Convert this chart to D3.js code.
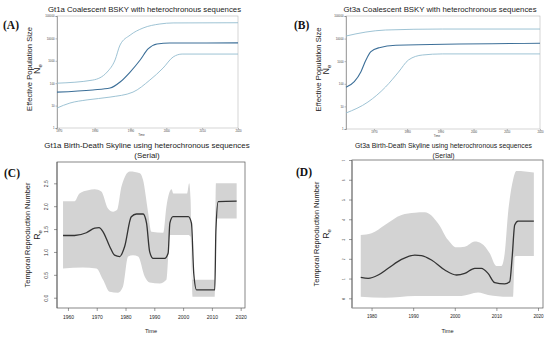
<!DOCTYPE html>
<html>
<head>
<meta charset="utf-8">
<script src="https://cdn.jsdelivr.net/npm/d3@7"></script>
<style>
body { margin: 0; background: #fff; }
svg { display: block; font-family: "Liberation Sans", Arial, sans-serif; }
</style>
</head>
<body>
<div id="chart"></div>
<script>
// ---------- data ----------
// (A) Gt1a coalescent Bayesian skyline: [year, Ne]
var gt1aUpper = [[1969.5, 100], [1979.5, 138], [1983.5, 316], [1985.7, 1090], [1987.1, 5100], [1989.9, 14000], [1993.5, 29000], [1998.2, 44000], [2001.9, 49000], [2020, 50000]];
var gt1aMedian = [[1969.5, 40], [1979.5, 50], [1984.3, 61], [1987.1, 113], [1989.9, 316], [1992.7, 1090], [1994.9, 3380], [1997.4, 5640], [2001, 6200], [2020, 6300]];
var gt1aLower = [[1969.5, 7.8], [1973.1, 13], [1977.9, 18], [1984.3, 24], [1990.7, 40], [1995.4, 138], [1999.1, 475], [2001.9, 1480], [2004.4, 2000], [2020, 2000]];

// (B) Gt3a coalescent Bayesian skyline
var gt3aUpper = [[1961.6, 13000], [1967.6, 19500], [1973.5, 24000], [1990.6, 26500], [2020, 26500]];
var gt3aMedian = [[1961.6, 70], [1964.1, 124], [1966.1, 345], [1967.6, 1125], [1969.1, 2630], [1971.6, 3970], [1976.6, 5040], [2020, 6200]];
var gt3aLower = [[1961.6, 5.1], [1968.2, 15.6], [1973.5, 72], [1977.4, 330], [1980.4, 1130], [1984.6, 1880], [1990.6, 2100], [2020, 2100]];

var coalYTicks = [1, 10, 100, 1000, 10000, 100000];
var gt1aXTicks = [1970, 1980, 1990, 2000, 2010, 2020];
var gt3aXTicks = [1970, 1980, 1990, 2000, 2010, 2020];

// (C) Gt1a birth-death skyline: [year, Re]
var bdC_median = [[1958.3, 1.36], [1962.3, 1.36], [1966.4, 1.42], [1969.3, 1.52], [1970.8, 1.53], [1972.2, 1.44], [1974.5, 1.12], [1976.2, 0.93], [1978, 0.9], [1979.7, 1.12], [1982, 1.77], [1983.8, 1.83], [1986.1, 1.83], [1987.3, 1.63], [1988.4, 1.0], [1989.6, 0.86], [1993.6, 0.86], [1994.8, 0.97], [1995.4, 1.63], [1996.5, 1.77], [2001.8, 1.77], [2002.9, 1.63], [2003.7, 0.53], [2004.7, 0.17], [2011, 0.17], [2011.4, 1.48], [2012.2, 2.1], [2018.6, 2.11]];
var bdC_upper = [[1958.3, 2.11], [1962.3, 2.11], [1964, 2.28], [1967, 2.35], [1969.3, 2.37], [1971.6, 2.32], [1973.9, 1.95], [1975.7, 1.88], [1977.1, 1.92], [1978.6, 2.43], [1981.5, 2.76], [1985, 2.72], [1986.1, 2.57], [1987.8, 1.88], [1989, 1.44], [1993.1, 1.42], [1994.2, 1.99], [1996, 2.37], [1996.6, 2.28], [2001.4, 2.28], [2002.1, 2.5], [2002.6, 2.14], [2003.3, 0.39], [2011, 0.39], [2011.4, 2.5], [2018.6, 2.5]];
var bdC_lower = [[1958.3, 0.64], [1965.2, 0.66], [1969.9, 0.64], [1972.2, 0.39], [1974.5, 0.13], [1977.4, 0.11], [1979.1, 0.24], [1980.9, 0.9], [1982.6, 0.93], [1984.4, 0.9], [1986.7, 0.46], [1988.4, 0.33], [1991.9, 0.31], [1994.2, 0.39], [1995.4, 1.37], [2001.8, 1.37], [2002.6, 1.33], [2003.3, 0.02], [2011, 0.02], [2011.4, 1.73], [2018.6, 1.73]];
var bdC_xTicks = [1960, 1970, 1980, 1990, 2000, 2010, 2020];
var bdC_yTicks = [0, 0.5, 1, 1.5, 2, 2.5];

// (D) Gt3a birth-death skyline
var bdD_median = [[1977.4, 1.06], [1979.2, 1.01], [1981.6, 1.18], [1984, 1.52], [1987.2, 1.97], [1990.4, 2.19], [1992, 2.16], [1994.4, 1.94], [1997.6, 1.43], [2000.4, 1.18], [2002.4, 1.26], [2004.8, 1.52], [2006.4, 1.52], [2008, 1.26], [2009.6, 0.79], [2012, 0.73], [2013.2, 0.84], [2013.8, 2.11], [2014.4, 3.71], [2015.2, 3.91], [2019, 3.91]];
var bdD_upper = [[1977.4, 3.2], [1980, 3.29], [1983.2, 3.71], [1987.2, 4.22], [1990.4, 4.33], [1992.8, 4.35], [1996, 3.79], [1998.4, 2.95], [2000.4, 2.58], [2002.4, 2.61], [2004.8, 2.87], [2006.4, 2.78], [2008.4, 2.28], [2010, 1.64], [2011.2, 1.64], [2012, 2.28], [2012.8, 4.3], [2014, 5.99], [2014.8, 6.44], [2019, 6.37]];
var bdD_lower = [[1977.4, 0.08], [1983.2, 0.03], [1990.4, 0.12], [2001.6, 0.12], [2005.6, 0.29], [2008, 0.17], [2012.8, 0.08], [2014, 0.08], [2014.4, 2.11], [2014.8, 2.14], [2019, 2.14]];
var bdD_xTicks = [1980, 1990, 2000, 2010, 2020];
var bdD_yTicks = [0, 1, 2, 3, 4, 5, 6, 7];

// ---------- drawing ----------
var svg = d3.select("#chart").append("svg")
    .attr("width", 550)
    .attr("height", 339);

svg.append("rect").attr("width", 550).attr("height", 339).attr("fill", "#fff");

function panelLabel(txt, x, y) {
    svg.append("text")
        .attr("x", x).attr("y", y)
        .attr("font-family", "'Liberation Serif', 'Times New Roman', serif")
        .attr("font-weight", "bold")
        .attr("font-size", "11.5px")
        .attr("fill", "#111")
        .text(txt);
}

function yLabel(txt, sub, x, yc, size, gap) {
    svg.append("text")
        .attr("transform", "translate(" + x + "," + yc + ") rotate(-90)")
        .attr("text-anchor", "middle")
        .attr("font-size", size + "px")
        .attr("fill", "#222")
        .text(txt);
    var t = svg.append("text")
        .attr("transform", "translate(" + (x + gap) + "," + yc + ") rotate(-90)")
        .attr("text-anchor", "middle")
        .attr("font-size", (size + 1.5) + "px")
        .attr("fill", "#222");
    t.append("tspan").text(sub[0]);
    t.append("tspan").attr("font-size", (size - 1.5) + "px").attr("dy", 2).text(sub[1]);
}

// coalescent skyline panels (A, B)
function coalescent(c) {
    var x = d3.scaleLinear().domain(c.xDomain).range([c.left, c.right]);
    var y = d3.scaleLog().domain([1, 100000]).range([c.bottom, c.top]);

    svg.append("text")
        .attr("x", (c.left + c.right) / 2 - 3).attr("y", 12)
        .attr("text-anchor", "middle")
        .attr("font-size", "7.8px")
        .attr("fill", "#222")
        .text(c.title);

    svg.append("rect")
        .attr("x", c.left).attr("y", c.top)
        .attr("width", c.right - c.left).attr("height", c.bottom - c.top)
        .attr("fill", "none").attr("stroke", "#b8b8b8").attr("stroke-width", 0.6);

    var ya = svg.append("g")
        .attr("transform", "translate(" + c.left + ",0)")
        .call(d3.axisLeft(y).tickValues(coalYTicks).tickSize(1.5).tickPadding(1).tickFormat(d3.format("d")));
    var xa = svg.append("g")
        .attr("transform", "translate(0," + c.bottom + ")")
        .call(d3.axisBottom(x).tickValues(c.xTicks).tickSize(1.5).tickPadding(1).tickFormat(d3.format("d")));
    ya.select(".domain").attr("stroke", "#777").attr("stroke-width", 0.6);
    xa.select(".domain").remove();
    [ya, xa].forEach(function (g) {
        g.selectAll("line").attr("stroke", "#777").attr("stroke-width", 0.5);
        g.selectAll("text").attr("font-size", "2.8px").attr("fill", "#444");
    });

    svg.append("text")
        .attr("x", (c.left + c.right) / 2 - 6).attr("y", c.bottom + 8)
        .attr("text-anchor", "middle")
        .attr("font-size", "3px").attr("fill", "#444")
        .text("Time");

    var line = d3.line()
        .x(function (d) { return x(d[0]); })
        .y(function (d) { return y(d[1]); })
        .curve(d3.curveMonotoneX);

    [[c.upper, "#93bccf", 0.9], [c.lower, "#93bccf", 0.9], [c.median, "#3c6f98", 1.1]].forEach(function (s) {
        svg.append("path")
            .datum(s[0])
            .attr("d", line)
            .attr("fill", "none")
            .attr("stroke", s[1])
            .attr("stroke-width", s[2]);
    });

    yLabel("Effective Population Size", ["N", "e"], c.left - 25, (c.top + c.bottom) / 2 - 3, 7.6, 8);
}

// birth-death skyline panels (C, D)
function birthDeath(c) {
    var x = d3.scaleLinear().domain(c.xDomain).range([c.left, c.right]);
    var y = d3.scaleLinear().domain(c.yDomain).range([c.bottom, c.top]);

    svg.append("text")
        .attr("x", (c.left + c.right) / 2 - 4).attr("y", 148)
        .attr("text-anchor", "middle")
        .attr("font-size", c.titleSize + "px")
        .attr("fill", "#222")
        .text(c.title);
    svg.append("text")
        .attr("x", (c.left + c.right) / 2 - 4).attr("y", 158)
        .attr("text-anchor", "middle")
        .attr("font-size", c.titleSize + "px")
        .attr("fill", "#222")
        .text("(Serial)");

    var line = d3.line()
        .x(function (d) { return x(d[0]); })
        .y(function (d) { return y(d[1]); })
        .curve(d3.curveMonotoneX);

    var band = line(c.upper) + line(c.lower.slice().reverse()).replace(/^M/, "L") + "Z";
    svg.append("path")
        .attr("d", band)
        .attr("fill", "#d3d3d3")
        .attr("stroke", "none");

    svg.append("path")
        .datum(c.median)
        .attr("d", line)
        .attr("fill", "none")
        .attr("stroke", "#333")
        .attr("stroke-width", 1.3);

    svg.append("rect")
        .attr("x", c.left).attr("y", c.top)
        .attr("width", c.right - c.left).attr("height", c.bottom - c.top)
        .attr("fill", "none").attr("stroke", "#555").attr("stroke-width", 0.7);

    var xa = svg.append("g")
        .attr("transform", "translate(0," + c.bottom + ")")
        .call(d3.axisBottom(x).tickValues(c.xTicks).tickSize(3).tickPadding(4).tickSizeOuter(0).tickFormat(d3.format("d")));
    xa.select(".domain").remove();
    xa.selectAll("line").attr("stroke", "#555").attr("stroke-width", 0.6);
    xa.selectAll("text").attr("font-size", c.xTickSize + "px").attr("fill", "#222");

    var ya = svg.append("g")
        .attr("transform", "translate(" + c.left + ",0)")
        .call(d3.axisLeft(y).tickValues(c.yTicks).tickSize(3).tickSizeOuter(0).tickFormat(c.yFormat));
    ya.select(".domain")
        .attr("d", "M0," + c.bottom + "V" + c.top)
        .attr("stroke", c.yAxisColor).attr("stroke-width", c.yAxisWidth);
    ya.selectAll("line").attr("stroke", "#555").attr("stroke-width", 0.6);
    ya.selectAll("text")
        .attr("font-size", c.yTickSize + "px")
        .attr("fill", "#333")
        .attr("text-anchor", "middle")
        .attr("dy", 0)
        .attr("transform", "translate(" + (-c.yTickOff) + ",0) rotate(-90)")
        .attr("x", 0);

    svg.append("text")
        .attr("x", (c.left + c.right) / 2).attr("y", 333)
        .attr("text-anchor", "middle")
        .attr("font-size", "5.6px").attr("fill", "#222")
        .text("Time");

    yLabel("Temporal Reproduction Number", ["R", "e"], c.labelX, (c.top + c.bottom) / 2, 7.4, 10);
}

coalescent({
    title: "Gt1a Coalescent BSKY with heterochronous sequences",
    left: 57, right: 238, top: 16, bottom: 128,
    xDomain: [1969.5, 2020], xTicks: gt1aXTicks,
    upper: gt1aUpper, median: gt1aMedian, lower: gt1aLower
});
coalescent({
    title: "Gt3a Coalescent BSKY with heterochronous sequences",
    left: 346, right: 540, top: 16, bottom: 129,
    xDomain: [1961.6, 2020], xTicks: gt3aXTicks,
    upper: gt3aUpper, median: gt3aMedian, lower: gt3aLower
});
birthDeath({
    title: "Gt1a Birth-Death Skyline using heterochronous sequences",
    titleSize: 7.9,
    left: 57, right: 245, top: 162, bottom: 308,
    xDomain: [1956.2, 2021.5], yDomain: [-0.225, 2.966],
    xTicks: bdC_xTicks, yTicks: bdC_yTicks, yFormat: d3.format(".1f"),
    xTickSize: 5, yTickSize: 5, yTickOff: 9,
    yAxisColor: "#555", yAxisWidth: 0.7, labelX: 30,
    upper: bdC_upper, median: bdC_median, lower: bdC_lower
});
birthDeath({
    title: "Gt3a Birth-Death Skyline using heterochronous sequences",
    titleSize: 6.8,
    left: 352, right: 543, top: 160, bottom: 308,
    xDomain: [1975.3, 2021.2], yDomain: [-0.49, 7.0],
    xTicks: bdD_xTicks, yTicks: bdD_yTicks, yFormat: d3.format("d"),
    xTickSize: 4.6, yTickSize: 3.2, yTickOff: 7,
    yAxisColor: "#999", yAxisWidth: 1.6, labelX: 319,
    upper: bdD_upper, median: bdD_median, lower: bdD_lower
});

panelLabel("(A)", 3, 29);
panelLabel("(B)", 294, 29);
panelLabel("(C)", 4, 177);
panelLabel("(D)", 296, 176);
</script>
</body>
</html>
